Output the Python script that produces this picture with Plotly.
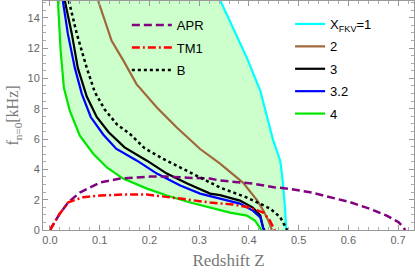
import plotly.graph_objects as go

# ---- data (Redshift Z, f in kHz) ----
x4_z = [0.016, 0.0215, 0.028, 0.040, 0.060, 0.087, 0.115, 0.147, 0.195, 0.235, 0.282, 0.322, 0.362, 0.396, 0.412, 0.423, 0.425]
x4_f = [15.1, 11.81, 9.38, 7.86, 6.22, 5.03, 4.11, 3.39, 2.73, 2.27, 1.81, 1.48, 1.15, 0.95, 0.63, 0.10, 0.0]

x32_z = [0.026, 0.036, 0.050, 0.064, 0.082, 0.107, 0.133, 0.175, 0.215, 0.262, 0.302, 0.342, 0.382, 0.408, 0.423, 0.429, 0.431]
x32_f = [15.1, 12.93, 10.69, 8.98, 7.45, 6.30, 5.36, 4.57, 3.72, 2.93, 2.40, 2.07, 1.74, 1.28, 0.82, 0.10, 0.0]

x3_z = [0.030, 0.044, 0.056, 0.074, 0.094, 0.118, 0.150, 0.195, 0.235, 0.276, 0.322, 0.342, 0.382, 0.408, 0.423, 0.429, 0.432]
x3_f = [15.1, 12.93, 10.69, 8.80, 7.45, 6.45, 5.45, 4.57, 3.72, 3.06, 2.40, 2.30, 1.94, 1.48, 0.95, 0.10, 0.0]

x2_z = [0.097, 0.110, 0.124, 0.148, 0.174, 0.215, 0.255, 0.302, 0.342, 0.388, 0.417, 0.429, 0.439, 0.445, 0.446]
x2_f = [15.1, 13.8, 12.47, 11.15, 9.62, 8.08, 6.76, 5.34, 4.38, 3.13, 1.94, 1.28, 0.63, 0.10, 0.0]

x1_z = [0.343, 0.368, 0.396, 0.423, 0.439, 0.449, 0.463, 0.468, 0.473, 0.474, 0.475]
x1_f = [15.1, 13.32, 11.35, 9.18, 7.20, 5.89, 4.57, 3.26, 1.28, 0.10, 0.0]

b_z = [0.038, 0.054, 0.074, 0.090, 0.110, 0.135, 0.161, 0.190, 0.227, 0.276, 0.342, 0.396, 0.423, 0.443, 0.463, 0.473, 0.476, 0.477]
b_f = [15.1, 12.93, 10.69, 9.10, 7.95, 6.95, 6.33, 5.40, 4.70, 3.91, 2.80, 2.14, 1.74, 1.41, 0.84, 0.30, 0.10, 0.0]

tm1_z = [0.0, 0.020, 0.037, 0.067, 0.101, 0.147, 0.195, 0.235, 0.276, 0.322, 0.368, 0.402, 0.429, 0.441, 0.447, 0.451, 0.452]
tm1_f = [0.0, 1.09, 1.83, 2.16, 2.27, 2.34, 2.34, 2.20, 2.01, 1.81, 1.68, 1.48, 1.15, 0.69, 0.36, 0.10, 0.0]

apr_z = [0.0, 0.020, 0.037, 0.060, 0.101, 0.141, 0.201, 0.235, 0.276, 0.322, 0.342, 0.408, 0.450, 0.483, 0.523, 0.563, 0.604, 0.644, 0.677, 0.701, 0.711, 0.714]
apr_f = [0.0, 1.09, 1.83, 2.47, 3.13, 3.39, 3.52, 3.52, 3.45, 3.39, 3.26, 3.06, 2.82, 2.71, 2.49, 2.16, 1.83, 1.39, 0.95, 0.51, 0.18, 0.0]

x_ticks = [0.0, 0.1, 0.2, 0.3, 0.4, 0.5, 0.6, 0.7]
x_tick_labels = ["0.0", "0.1", "0.2", "0.3", "0.4", "0.5", "0.6", "0.7"]
y_ticks = [0, 2, 4, 6, 8, 10, 12, 14]

fig = go.Figure()

# shaded band between X_FKV=4 and X_FKV=1
band_z = x4_z + x1_z[::-1]
band_f = x4_f + x1_f[::-1]
fig.add_trace(go.Scatter(x=band_z, y=band_f, fill="toself", mode="none",
                         fillcolor="rgba(0,255,0,0.2)", showlegend=False, hoverinfo="skip"))

lw = 2.2
fkv = [
    (x1_z, x1_f, "#00ffff", "X<sub>FKV</sub>=1"),
    (x2_z, x2_f, "#a0683a", "2"),
    (x3_z, x3_f, "#000000", "3"),
    (x32_z, x32_f, "#0000ff", "3.2"),
    (x4_z, x4_f, "#00e600", "4"),
]
for zz, ff, col, name in fkv:
    fig.add_trace(go.Scatter(x=zz, y=ff, mode="lines", name=name, legendgroup="f" + name,
                             line=dict(color=col, width=lw), legend="legend2"))

eos = [
    (apr_z, apr_f, "#800080", "8px,4px", "APR"),
    (tm1_z, tm1_f, "#ff0000", "8px,3px,2px,3px", "TM1"),
    (b_z, b_f, "#000000", "3px,3px", "B"),
]
for zz, ff, col, dash, name in eos:
    fig.add_trace(go.Scatter(x=zz, y=ff, mode="lines", name=name, legendgroup="e" + name,
                             line=dict(color=col, width=2.5, dash=dash), legend="legend"))

axis_common = dict(showline=True, linecolor="#999999", linewidth=1, mirror="allticks",
                   ticks="inside", ticklen=5, tickcolor="#999999", showgrid=False, zeroline=False,
                   automargin=False,
                   tickfont=dict(family="Liberation Sans, Arial", size=11, color="#666666"))

fig.update_xaxes(range=[-0.014, 0.732], tickvals=x_ticks, ticktext=x_tick_labels,
                 minor=dict(dtick=0.02, ticks="inside", ticklen=3, tickcolor="#aaaaaa"),
                 title=dict(text="Redshift Z", font=dict(family="Liberation Serif, Times New Roman", size=17, color="#777777"), standoff=8),
                 **axis_common)
fig.update_yaxes(range=[0, 15.1], tickvals=y_ticks,
                 minor=dict(dtick=0.5, ticks="inside", ticklen=3, tickcolor="#aaaaaa"),
                 title=dict(text="f<sub>n=0</sub>[kHz]", font=dict(family="Liberation Serif, Times New Roman", size=16, color="#777777"), standoff=4),
                 **axis_common)

legend_font = dict(family="Liberation Sans, Arial", size=13, color="#000000")
fig.update_layout(
    width=415, height=275,
    margin=dict(l=43, r=1, t=1, b=45, autoexpand=False),
    paper_bgcolor="white", plot_bgcolor="white",
    legend=dict(x=0.226, y=0.96, xanchor="left", yanchor="top", bgcolor="rgba(0,0,0,0)",
                font=legend_font, itemwidth=40, tracegroupgap=2.5),
    legend2=dict(x=0.666, y=0.965, xanchor="left", yanchor="top", bgcolor="rgba(0,0,0,0)",
                 font=legend_font, itemwidth=30, tracegroupgap=2.5),
)

fig.write_html("out.html", config={"displayModeBar": False},
               post_script="document.body.style.margin='0';")
